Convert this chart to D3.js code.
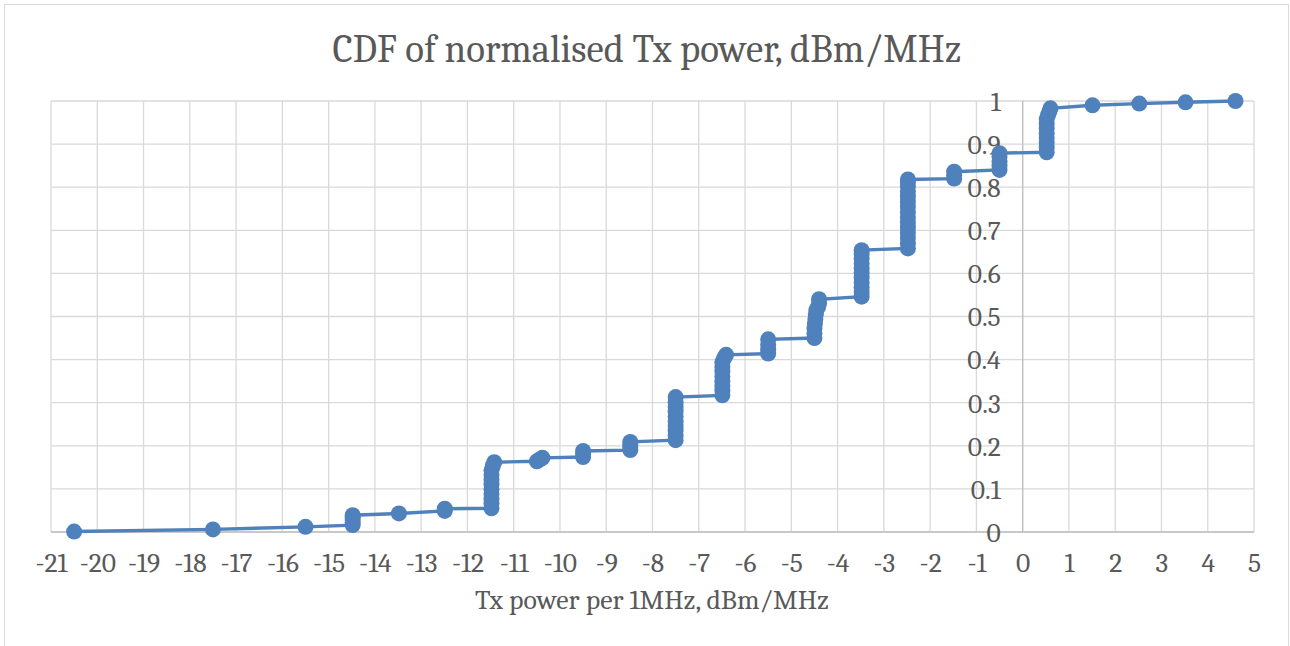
<!DOCTYPE html>
<html>
<head>
<meta charset="utf-8">
<script src="https://cdn.jsdelivr.net/npm/d3@7"></script>
<style>
body { margin: 0; background: #fff; }
text { font-family: Cambria, Caladea, "DejaVu Serif", serif; fill: #595959; }
</style>
</head>
<body>
<script>
var width = 1290, height = 646;

// x values (dBm/MHz), one per sample, sorted
var txPower = [
 -20.5,
 -17.5,
 -15.5,
 -14.48, -14.48, -14.48, -14.48, -14.48,
 -13.48,
 -12.49, -12.49,
 -11.48, -11.48, -11.48, -11.48, -11.48, -11.48, -11.48, -11.48, -11.48, -11.45, -11.42,
 -10.5, -10.44, -10.38,
 -9.5, -9.5, -9.5,
 -8.48, -8.48, -8.48, -8.48,
 -7.5, -7.5, -7.5, -7.5, -7.5, -7.5, -7.5, -7.5, -7.5, -7.5,
 -6.49, -6.49, -6.49, -6.49, -6.49, -6.49, -6.49, -6.49, -6.45, -6.41,
 -5.5, -5.5, -5.5, -5.5,
 -4.5, -4.5, -4.5, -4.49, -4.48, -4.47, -4.46, -4.42, -4.4, -4.4,
 -3.48, -3.48, -3.48, -3.48, -3.48, -3.48, -3.48, -3.48, -3.48, -3.48, -3.48,
 -2.48, -2.48, -2.48, -2.48, -2.48, -2.48, -2.48, -2.48, -2.48, -2.48, -2.48, -2.48, -2.48, -2.48, -2.48,
 -1.48, -1.48, -1.48,
 -0.5, -0.5, -0.5, -0.5, -0.5,
 0.52, 0.52, 0.52, 0.52, 0.52, 0.52, 0.52, 0.52, 0.55, 0.58, 0.6,
 1.51,
 2.52,
 3.52,
 4.6
];

// cumulative probability for each sample
var cdf = [
 0.001,
 0.006,
 0.012,
 0.016, 0.022, 0.028, 0.034, 0.039,
 0.043,
 0.049, 0.054,
 0.055, 0.066, 0.077, 0.088, 0.099, 0.110, 0.121, 0.132, 0.143, 0.154, 0.162,
 0.164, 0.168, 0.172,
 0.174, 0.181, 0.188,
 0.190, 0.197, 0.203, 0.209,
 0.213, 0.224, 0.235, 0.246, 0.257, 0.268, 0.279, 0.290, 0.301, 0.313,
 0.317, 0.328, 0.339, 0.350, 0.361, 0.372, 0.383, 0.394, 0.404, 0.411,
 0.414, 0.424, 0.435, 0.447,
 0.450, 0.461, 0.472, 0.483, 0.494, 0.505, 0.515, 0.522, 0.531, 0.540,
 0.546, 0.557, 0.568, 0.579, 0.590, 0.601, 0.612, 0.623, 0.634, 0.645, 0.654,
 0.658, 0.670, 0.682, 0.694, 0.706, 0.718, 0.730, 0.742, 0.754, 0.766, 0.778, 0.790, 0.802, 0.812, 0.818,
 0.820, 0.828, 0.836,
 0.840, 0.850, 0.860, 0.870, 0.879,
 0.881, 0.892, 0.903, 0.914, 0.925, 0.936, 0.947, 0.958, 0.968, 0.976, 0.983,
 0.990,
 0.994,
 0.997,
 1.000
];

var xTicks = d3.range(-21, 6);
var yTicks = [0, 0.1, 0.2, 0.3, 0.4, 0.5, 0.6, 0.7, 0.8, 0.9, 1];

var data = txPower.map(function(d, i) { return {x: d, y: cdf[i]}; });

var margin = {left: 51, right: 36, top: 101, bottom: 114};

var svg = d3.select('body').append('svg').attr('width', width).attr('height', height);

// font size that makes a sample string this wide (the fallback font differs from Cambria)
function fitSize(sample, target) {
 var t = svg.append('text').attr('font-size', 100).text(sample);
 var w = t.node().getComputedTextLength();
 t.remove();
 return 100 * target / w;
}
var titleSize = fitSize('CDF of normalised Tx power, dBm/MHz', 629);
var axisTitleSize = fitSize('Tx power per 1MHz, dBm/MHz', 354);
var tickSize = fitSize('-21', 32);

// chart frame
svg.append('rect')
 .attr('x', 4.5).attr('y', 4.5)
 .attr('width', 1284).attr('height', 660)
 .attr('fill', '#fff').attr('stroke', '#d9d9d9');

var x = d3.scaleLinear().domain([-21, 5]).range([margin.left, width - margin.right]);
var y = d3.scaleLinear().domain([0, 1]).range([height - margin.bottom, margin.top]);

// gridlines
svg.append('g').selectAll('line.v')
 .data(xTicks)
 .join('line')
 .attr('x1', function(d) { return x(d); }).attr('x2', function(d) { return x(d); })
 .attr('y1', y(0)).attr('y2', y(1))
 .attr('stroke', '#d9d9d9').attr('stroke-width', 1.3);

svg.append('g').selectAll('line.h')
 .data(yTicks)
 .join('line')
 .attr('x1', x(-21)).attr('x2', x(5))
 .attr('y1', function(d) { return y(d); }).attr('y2', function(d) { return y(d); })
 .attr('stroke', '#d9d9d9').attr('stroke-width', 1.3);

// axis lines
svg.append('line')
 .attr('x1', x(0)).attr('x2', x(0)).attr('y1', y(0)).attr('y2', y(1))
 .attr('stroke', '#bfbfbf').attr('stroke-width', 1.3);
svg.append('line')
 .attr('x1', x(-21)).attr('x2', x(5)).attr('y1', y(0)).attr('y2', y(0))
 .attr('stroke', '#bfbfbf').attr('stroke-width', 1.3);

// x tick labels (plain hyphen like Excel)
var xAxis = svg.append('g')
 .attr('transform', 'translate(0,' + (y(0) + 40) + ')')
 .call(d3.axisBottom(x).tickValues(xTicks).tickSize(0).tickPadding(0).tickFormat(function(d) { return String(d); }));
xAxis.select('.domain').remove();
xAxis.selectAll('text').attr('font-size', tickSize).attr('fill', '#595959').attr('dy', '0');

// y tick labels, at the x = 0 crossing
var yAxis = svg.append('g')
 .attr('transform', 'translate(' + (x(0) - 22) + ',0)')
 .call(d3.axisLeft(y).tickValues(yTicks).tickSize(0).tickPadding(0).tickFormat(function(d) { return String(+d.toFixed(1)); }));
yAxis.select('.domain').remove();
yAxis.selectAll('text').attr('font-size', tickSize).attr('fill', '#595959').attr('dy', '0.34em');

// series
var line = d3.line()
 .x(function(d) { return x(d.x); })
 .y(function(d) { return y(d.y); });

svg.append('path')
 .datum(data)
 .attr('d', line)
 .attr('fill', 'none')
 .attr('stroke', '#4f81bd')
 .attr('stroke-width', 3.4);

svg.append('g').selectAll('circle')
 .data(data)
 .join('circle')
 .attr('cx', function(d) { return x(d.x); })
 .attr('cy', function(d) { return y(d.y); })
 .attr('r', 8)
 .attr('fill', '#4f81bd');

// titles
svg.append('text')
 .attr('x', 647).attr('y', 62)
 .attr('text-anchor', 'middle')
 .attr('font-size', titleSize)
 .text('CDF of normalised Tx power, dBm/MHz');

svg.append('text')
 .attr('x', 652).attr('y', 609)
 .attr('text-anchor', 'middle')
 .attr('font-size', axisTitleSize)
 .text('Tx power per 1MHz, dBm/MHz');

console.log('ready..');
</script>
</body>
</html>
